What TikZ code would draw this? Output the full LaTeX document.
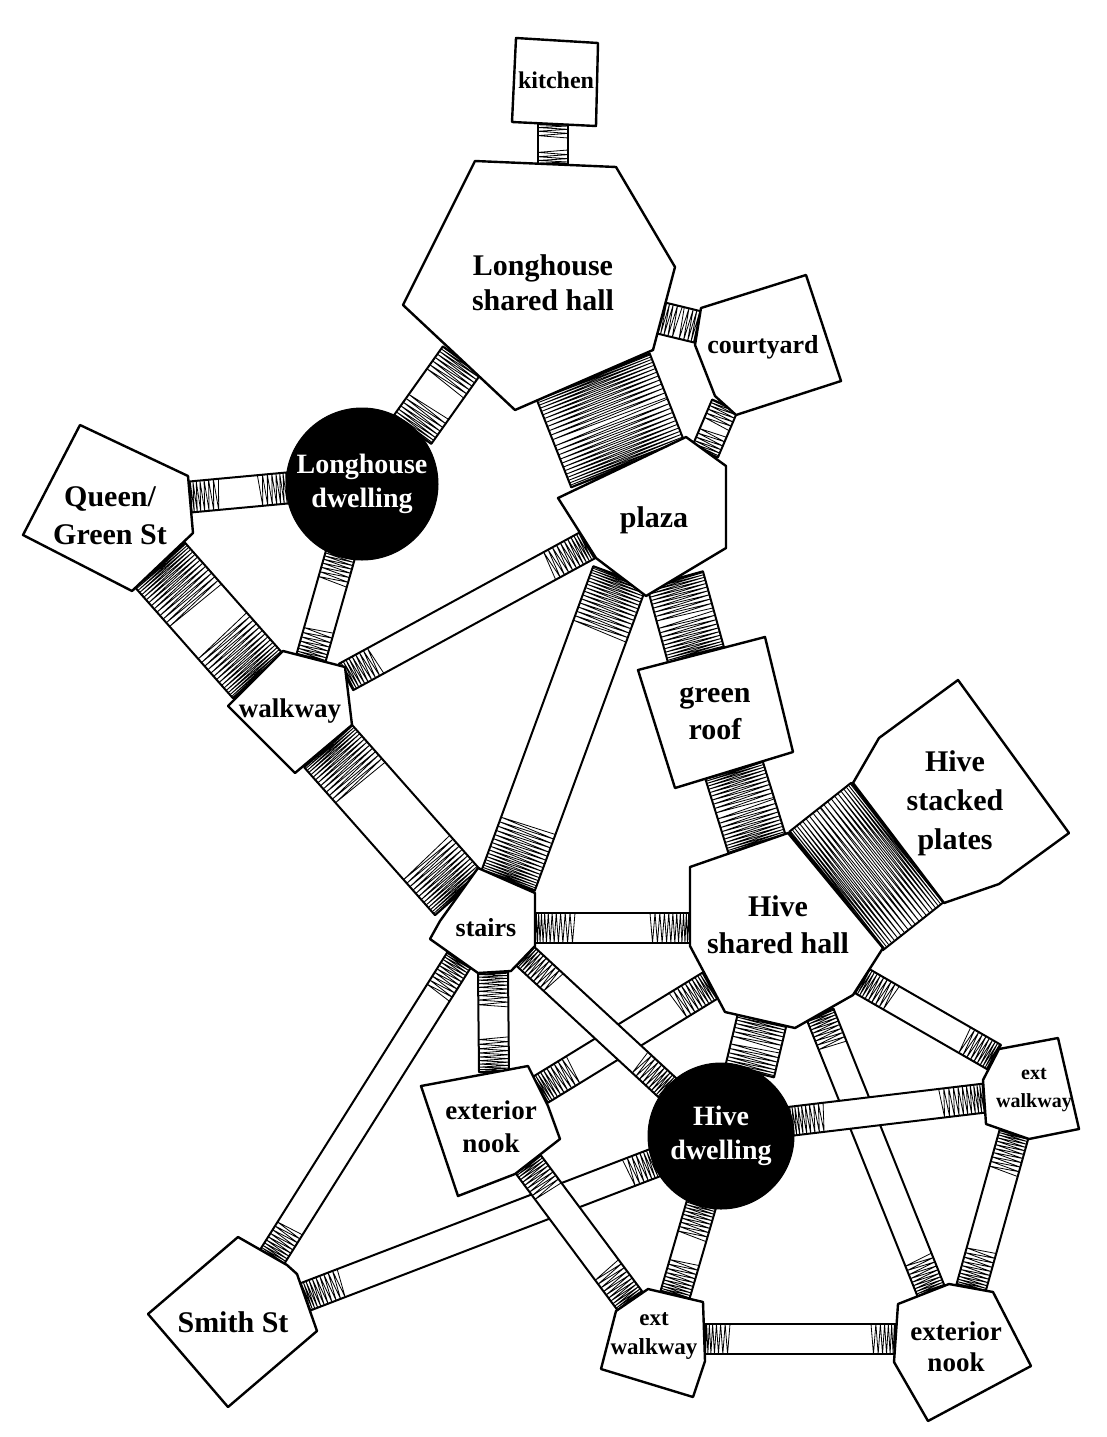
\documentclass[tikz,border=0pt]{standalone}
\usepackage{fontspec}
\setmainfont{Liberation Serif}
\usetikzlibrary{calc}
\pgfdeclarelayer{bg}
\pgfdeclarelayer{bands}
\pgfsetlayers{bg,bands,main}
\tikzset{
  room/.style={draw=black, fill=white, line width=2.4pt, line join=round},
  bandedge/.style={draw=black, line width=2pt, line join=round},
  hatchline/.style={draw=black, line width=0.8pt, line join=round},
  lbl/.style 2 args={font=\bfseries\fontsize{#1}{#2}\selectfont, align=center, inner sep=0pt},
  dwell/.style={circle, fill=black, draw=black, line width=1pt, inner sep=0pt, text=white, align=center, font=\bfseries\fontsize{28}{34}\selectfont},
}
% #1 start coordinate, #2 end coordinate, #3 half width, #4 hatch length at start, #5 hatch length at end
\newcommand\roomband[5]{%
  \coordinate (ba1) at ($(#1)!#3!90:(#2)$);
  \coordinate (ba2) at ($(#1)!#3!-90:(#2)$);
  \coordinate (bb1) at ($(#2)!#3!-90:(#1)$);
  \coordinate (bb2) at ($(#2)!#3!90:(#1)$);
  \fill[white] (ba1)--(bb1)--(bb2)--(ba2)--cycle;
  \path let \p1=($(#2)-(#1)$) in \pgfextra{\pgfmathsetmacro\tmpL{veclen(\x1,\y1)}\global\let\roomL\tmpL};
  \pgfmathsetmacro\fa{#4/\roomL}
  \pgfmathtruncatemacro\Na{max(2,round(#4/3.6))}
  \pgfmathsetmacro\fb{#5/\roomL}
  \pgfmathtruncatemacro\Nb{max(2,round(#5/3.6))}
  \draw[hatchline] (ba1) \foreach \k in {1,...,\Na}{ -- ($(ba2)!{\fa*((\k-0.5)/\Na)^1.4}!(bb2)$) -- ($(ba1)!{\fa*(\k/\Na)^1.4}!(bb1)$) };
  \draw[hatchline] (bb1) \foreach \k in {1,...,\Nb}{ -- ($(bb2)!{\fb*((\k-0.5)/\Nb)^1.4}!(ba2)$) -- ($(bb1)!{\fb*(\k/\Nb)^1.4}!(ba1)$) };
  \draw[bandedge] (ba1)--(bb1)--(bb2)--(ba2)--cycle;
}
\begin{document}
\begin{tikzpicture}[x=1pt,y=-1pt]
\begin{pgfonlayer}{bg}
\fill[white] (0,0) rectangle (1106,1437);
\end{pgfonlayer}
\useasboundingbox (0,0) rectangle (1106,1437);

% ---------- rooms ----------
\draw[room] (516,38)--(598,43)--(596,126)--(512,122)--cycle;
\node[lbl={24}{28}] (kitchen) at (556,80) {kitchen};

\draw[room] (475,161)--(616,167)--(675,267)--(653,350)--(515,410)--(403,305)--cycle;
\node[lbl={30}{35}] (lhall) at (543,283) {Longhouse\\shared hall};

\draw[room] (701,308)--(806,275)--(841,381)--(736,415)--(715,396)--(695,345)--cycle;
\node[lbl={26}{30}] (court) at (763,347) {courtyard};

\draw[room] (80,425)--(188,476)--(193,533)--(132,591)--(23,535)--cycle;
\node[lbl={30}{38}] (queen) at (110,516) {Queen/\\Green St};

\draw[room] (558,498)--(686,437)--(726,466)--(726,548)--(646,596)--(596,558)--cycle;
\node[lbl={30}{36}] (plaza) at (654,520) {plaza};

\draw[room] (283,651)--(345,667)--(352,725)--(295,773)--(228,706)--cycle;
\node[lbl={27}{32}] (walk) at (290,711) {walkway};

\draw[room] (638,670)--(765,637)--(793,752)--(675,788)--cycle;
\node[lbl={30}{37}] (groof) at (715,713) {green\\roof};

\draw[room] (879,738)--(958,680)--(1069,833)--(999,884)--(944,903)--(853,783)--cycle;
\node[lbl={30}{39}] (plates) at (955,803) {Hive\\stacked\\plates};

\draw[room] (690,867)--(788,833)--(883,948)--(853,995)--(795,1028)--(725,1012)--(690,946)--cycle;
\node[lbl={30}{37}] (hhall) at (778,925) {Hive\\shared hall};

\draw[room] (478,868)--(535,893)--(535,946)--(511,971)--(478,973)--(430,939)--(440,921)--cycle;
\node[lbl={26}{30}] (stairs) at (486,928) {stairs};

\draw[room] (421,1086)--(528,1066)--(548,1106)--(560,1139)--(515,1174)--(458,1196)--cycle;
\node[lbl={27}{33}] (nookl) at (491,1127) {exterior\\nook};

\draw[room] (999,1049)--(1058,1038)--(1079,1129)--(1029,1139)--(986,1124)--(983,1080)--cycle;
\node[lbl={20}{28}] (extwu) at (1034,1090) {ext\\walkway};

\draw[room] (238,1237)--(287,1265)--(297,1274)--(317,1331)--(228,1407)--(148,1314)--cycle;
\node[lbl={30}{36}] (smith) at (233,1322) {Smith St};

\draw[room] (616,1311)--(648,1289)--(703,1302)--(705,1361)--(693,1397)--(601,1369)--cycle;
\node[lbl={23}{29}] (extwb) at (654,1336) {ext\\walkway};

\draw[room] (898,1304)--(949,1284)--(993,1292)--(1031,1366)--(928,1421)--(894,1362)--cycle;
\node[lbl={27}{31}] (nookr) at (956,1347) {exterior\\nook};

\node[dwell, minimum size=152pt] (ld) at (362,484) {Longhouse\\dwelling};
\node[dwell, minimum size=146pt] (hd) at (721,1136) {Hive\\dwelling};

% ---------- connecting bands ----------
\begin{pgfonlayer}{bands}
\coordinate (b1a) at (553,124); \coordinate (b1b) at (553,164);
\roomband{b1a}{b1b}{15pt}{14}{14}
\coordinate (b2a) at (661,318); \coordinate (b2b) at (698,327);
\roomband{b2a}{b2b}{16pt}{18}{18}
\coordinate (b3a) at (593,376); \coordinate (b3b) at (628,465);
\roomband{b3a}{b3b}{61pt}{47}{47}
\coordinate (b4a) at (725,405); \coordinate (b4b) at (705,452);
\roomband{b4a}{b4b}{14pt}{22}{22}
\coordinate (b5a) at (462,360); \coordinate (b5b) at ($(ld.center)!0.96!(ld.47)$);
\roomband{b5a}{b5b}{23.5pt}{30}{30}
\coordinate (b6a) at (190,497); \coordinate (b6b) at ($(ld.center)!0.96!(ld.183)$);
\roomband{b6a}{b6b}{15.5pt}{30}{30}
\coordinate (b7a) at (160,565); \coordinate (b7b) at (258,676);
\roomband{b7a}{b7b}{33.5pt}{55}{55}
\coordinate (b8a) at ($(ld.center)!0.96!(ld.253)$); \coordinate (b8b) at (311,658);
\roomband{b8a}{b8b}{15pt}{30}{30}
\coordinate (b9a) at (588,545); \coordinate (b9b) at (346,677);
\roomband{b9a}{b9b}{15pt}{45}{35}
\coordinate (b10a) at (620,576); \coordinate (b10b) at (508,881);
\roomband{b10a}{b10b}{28.5pt}{60}{60}
\coordinate (b11a) at (675,579); \coordinate (b11b) at (696,655);
\roomband{b11a}{b11b}{29pt}{38}{38}
\coordinate (b12a) at (328,746); \coordinate (b12b) at (459,894);
\roomband{b12a}{b12b}{32pt}{50}{50}
\coordinate (b13a) at (734,770); \coordinate (b13b) at (757,844);
\roomband{b13a}{b13b}{30pt}{38}{38}
\coordinate (b14a) at (836,891); \coordinate (b14b) at (898,842);
\roomband{b14a}{b14b}{75.5pt}{40}{40}
\coordinate (b15a) at (535,928); \coordinate (b15b) at (690,928);
\roomband{b15a}{b15b}{15pt}{40}{40}
\coordinate (b16a) at (459,960); \coordinate (b16b) at (272,1257);
\roomband{b16a}{b16b}{14pt}{40}{35}
\coordinate (b17a) at (493,972); \coordinate (b17b) at (494,1072);
\roomband{b17a}{b17b}{15pt}{35}{35}
\coordinate (b19a) at (540,1090); \coordinate (b19b) at (711,985);
\roomband{b19a}{b19b}{15pt}{40}{40}
\coordinate (b18a) at (525,956); \coordinate (b18b) at ($(hd.center)!0.96!(hd.138)$);
\roomband{b18a}{b18b}{13pt}{40}{40}
\coordinate (b20a) at (762,1020); \coordinate (b20b) at ($(hd.center)!0.96!(hd.66)$);
\roomband{b20a}{b20b}{25pt}{25}{25}
\coordinate (b21a) at (862,981); \coordinate (b21b) at (994,1057);
\roomband{b21a}{b21b}{14pt}{35}{35}
\coordinate (b22a) at (820,1014); \coordinate (b22b) at (931,1291);
\roomband{b22a}{b22b}{14.5pt}{35}{35}
\coordinate (b23a) at ($(hd.center)!0.96!(hd.12)$); \coordinate (b23b) at (985,1098);
\roomband{b23a}{b23b}{14.5pt}{35}{45}
\coordinate (b24a) at (1014,1134); \coordinate (b24b) at (971,1288);
\roomband{b24a}{b24b}{15pt}{40}{40}
\coordinate (b25a) at (705,1339); \coordinate (b25b) at (896,1339);
\roomband{b25a}{b25b}{15pt}{25}{25}
\coordinate (b28a) at (305,1297); \coordinate (b28b) at ($(hd.center)!0.96!(hd.202)$);
\roomband{b28a}{b28b}{14.5pt}{40}{30}
\coordinate (b26a) at (528,1164); \coordinate (b26b) at (630,1301);
\roomband{b26a}{b26b}{15.5pt}{35}{40}
\coordinate (b27a) at ($(hd.center)!0.96!(hd.254)$); \coordinate (b27b) at (675,1295);
\roomband{b27a}{b27b}{15pt}{35}{35}
\end{pgfonlayer}
\end{tikzpicture}
\end{document}
